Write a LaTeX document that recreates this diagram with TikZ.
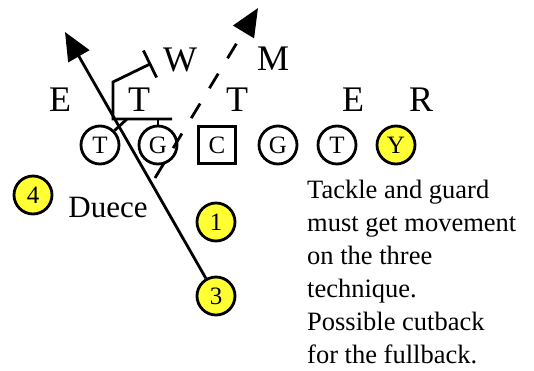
\documentclass[tikz,border=0pt]{standalone}
\usepackage{fontspec}
\setmainfont{Liberation Serif}
\usetikzlibrary{arrows.meta}
\definecolor{ylw}{RGB}{255,255,51}
\begin{document}
\begin{tikzpicture}[x=1pt,y=-1pt,
  player/.style={circle,draw,line width=2.8pt,minimum size=38pt,inner sep=0pt,
    font=\fontsize{25}{25}\selectfont},
  back/.style={player,fill=ylw},
  center/.style={rectangle,draw,line width=2.8pt,minimum size=37pt,inner sep=0pt,
    font=\fontsize{25}{25}\selectfont},
  defl/.style={inner sep=0pt,font=\fontsize{36}{36}\selectfont},
  blk/.style={line width=2.8pt,line join=miter},
  run/.style={line width=2.8pt,-{Triangle[length=28pt,width=24pt]}},
  dashrun/.style={run,dash pattern=on 17pt off 18pt}]
\useasboundingbox (0,0) rectangle (534,370);
% offensive line
\node[player] (lt) at (100,145) {T};
\node[player] (lg) at (158,145) {G};
\node[center] (c) at (217,145) {C};
\node[player] (rg) at (278,145) {G};
\node[player] (rt) at (337,145) {T};
\node[back] (y) at (396,145) {Y};
% backs
\node[back] (b4) at (33,195) {4};
\node[back] (b1) at (216,222) {1};
\node[back] (b3) at (216,296) {3};
\node[inner sep=0pt,font=\fontsize{31}{31}\selectfont] (duece) at (108,207) {Duece};
% defense
\node[defl] (de) at (60,100) {E};
\node[defl] (dt1) at (139,100) {T};
\node[defl] (dt2) at (237,100) {T};
\node[defl] (de2) at (353,100) {E};
\node[defl] (dr) at (421,100) {R};
\node[defl] (dw) at (180,60) {W};
\node[defl] (dm) at (273,59) {M};
% block
\coordinate (bl) at (113,119);
\coordinate (br) at (172,119);
\coordinate (bt) at (127,119);
\coordinate (bg) at (158,119);
\coordinate (bv) at (113,82);
\coordinate (bd) at (150,64);
\coordinate (tb1) at (143.4,50.5);
\coordinate (tb2) at (156.6,77.5);
\draw[blk] (bd) -- (bv) -- (bl) -- (br);
\draw[blk] (tb1) -- (tb2);
\draw[blk] (lt.45) -- (bt);
\draw[blk] (lg.north) -- (bg);
% runs
\coordinate (tip1) at (65,32);
\draw[run] (b3) -- (tip1);
\coordinate (ds) at (155,178);
\coordinate (tip2) at (258,8);
\draw[dashrun] (ds) -- (tip2);
% note
\node[anchor=north west,inner sep=0pt,align=left,font=\fontsize{26.5}{33}\selectfont] (note) at (307,180)
  {Tackle and guard\\must get movement\\on the three\\technique.\\Possible cutback\\for the fullback.};
\end{tikzpicture}
\end{document}
